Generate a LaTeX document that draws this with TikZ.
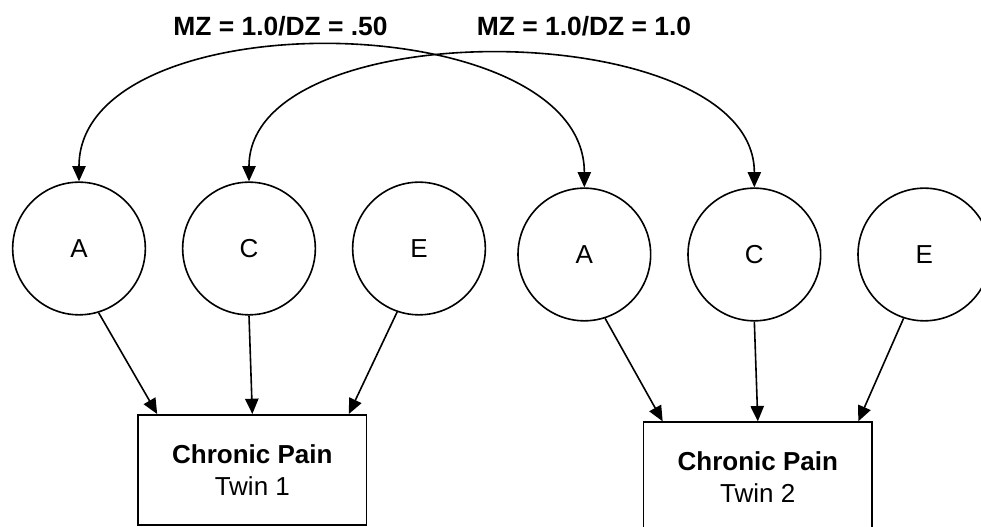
\documentclass[tikz,border=0pt]{standalone}
\usepackage{fontspec}
\setmainfont{Liberation Sans}
\usetikzlibrary{arrows.meta,positioning}

\begin{document}
\begin{tikzpicture}[x=0.75pt,y=0.75pt,>={Triangle[length=11.5pt,width=10pt]},
                    line width=1.2pt,node distance=127.5pt]
  \tikzstyle{factor}=[circle,draw,inner sep=0pt,minimum size=99.5pt,
                      font=\fontsize{19.5}{23}\selectfont]
  \tikzstyle{pheno}=[rectangle,draw,align=center,minimum width=171.5pt,
                     minimum height=82.5pt,font=\fontsize{19.5}{24}\selectfont]
  \tikzstyle{corr}=[font=\bfseries\fontsize{19.8}{23}\selectfont]

  \useasboundingbox (0,0) rectangle (981,527);

  \node[factor] (A1) at (79,278.5) {A};
  \node[factor] (C1) [right of=A1] {C};
  \node[factor] (E1) [right of=C1] {E};
  \node[factor] (A2) [right of=E1,xshift=-3.5pt,yshift=-4.5pt] {A};
  \node[factor] (C2) [right of=A2] {C};
  \node[factor] (E2) [right of=C2] {E};

  \node[pheno] (P1) [node distance=166pt,below of=C1,xshift=2.5pt]
       {\textbf{Chronic Pain}\\Twin 1};
  \node[pheno] (P2) [node distance=167pt,below of=C2,xshift=2.6pt]
       {\textbf{Chronic Pain}\\Twin 2};

  \node[corr] (rA) at (280.5,501) {MZ = 1.0/DZ = .50};
  \node[corr] (rC) at (584,501) {MZ = 1.0/DZ = 1.0};

  % twin correlations
  \draw[<->] (A1.north) .. controls +(0,183) and +(0,183) .. (A2.north);
  \draw[<->] (C1.north) .. controls +(0,172) and +(0,172) .. (C2.north);

  % paths to the phenotype
  \draw[->] (A1.-73)  -- ([xshift=15pt]P1.north west);
  \draw[->] (C1.south) -- (P1.north);
  \draw[->] (E1.-109) -- ([xshift=-14pt]P1.north east);
  \draw[->] (A2.-72)  -- ([xshift=15pt]P2.north west);
  \draw[->] (C2.south) -- (P2.north);
  \draw[->] (E2.-108) -- ([xshift=-11pt]P2.north east);
\end{tikzpicture}
\end{document}
